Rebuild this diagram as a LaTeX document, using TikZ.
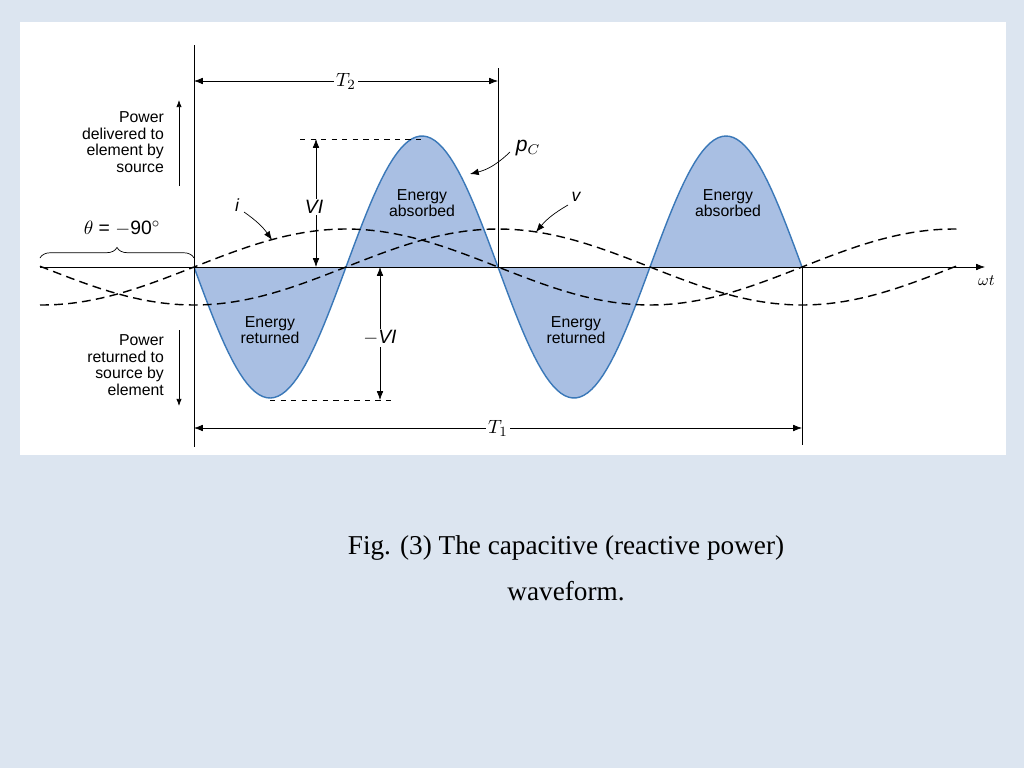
\documentclass[tikz,border=0pt]{standalone}
\usepackage{fontspec}
\setmainfont{Liberation Serif}
\newfontfamily\labelfont{Liberation Sans}
\usetikzlibrary{decorations.pathreplacing,arrows.meta}
\definecolor{bgblue}{HTML}{DCE5F0}
\definecolor{fillblue}{HTML}{A9BFE3}
\definecolor{lineblue}{HTML}{3A78B8}
\tikzset{
  lbl/.style={font=\labelfont\fontsize{9}{9.5}\selectfont, align=center, inner sep=1pt},
  dimarrow/.style={{Latex[length=5pt]}-{Latex[length=5pt]}, thin},
  wave/.style={dashed, thick, dash pattern=on 5pt off 3pt},
}
\begin{document}
\begin{tikzpicture}[x=0.02cm, y=-0.02cm]
  \useasboundingbox (0,0) rectangle (1024,768);
  \fill[bgblue] (0,0) rectangle (1024,768);
  \fill[white] (20,22) rectangle (1006,455);

  % power curve
  \fill[fillblue] plot[domain=194:802, samples=160] (\x, {267+131*sin((\x-194)*1.184211)}) -- cycle;
  \draw[lineblue, thick] plot[domain=194:802, samples=160] (\x, {267+131*sin((\x-194)*1.184211)});

  % axes
  \draw[-{Latex[length=5pt]}] (40,267) coordinate (ax0) -- (985,267) coordinate (ax1);
  \node[lbl, anchor=west] (wt) at (976,281) {$\omega t$};
  \draw (194,45) coordinate (va0) -- (194,447) coordinate (va1);

  % voltage and current
  \draw[wave] plot[domain=40:960, samples=120] (\x, {267-38*sin((\x-194)*0.592105)});
  \draw[wave] plot[domain=40:960, samples=120] (\x, {267-38*sin((\x-346)*0.592105)});

  % periods
  \draw (498,68) coordinate (t2r) -- (498,267);
  \draw (802,267) -- (802,445) coordinate (t1r);
  \draw[dimarrow] (194,81) -- node[fill=white, lbl, font=\labelfont\fontsize{11}{11}\selectfont] (T2) {$T_2$} (498,81);
  \draw[dimarrow] (194,428) -- node[fill=white, lbl, font=\labelfont\fontsize{11}{11}\selectfont] (T1) {$T_1$} (802,428);

  % VI marks
  \draw[dashed] (300,139) coordinate (vi0) -- (422,139) coordinate (vi1);
  \draw[dashed] (270,400) coordinate (mvi0) -- (392,400) coordinate (mvi1);
  \draw[dimarrow] (316,267) -- (316,139);
  \node[lbl, fill=white, font=\labelfont\itshape\fontsize{11}{11}\selectfont] (VI) at (314,207) {VI};
  \draw[dimarrow] (380,267) -- (380,400);
  \node[lbl, fill=white, font=\labelfont\fontsize{11}{11}\selectfont] (mVI) at (380,338) {$-$\textit{VI}};

  % phase brace
  \draw[decorate, decoration={brace, amplitude=6pt}] (40,258) -- (194,258);
  \node[lbl, font=\labelfont\fontsize{11}{11}\selectfont] (theta) at (122,229) {$\theta$ = $-$90$^\circ$};

  % side texts
  \node[lbl, align=right, anchor=east] (deliv) at (166,142) {Power\\delivered to\\element by\\source};
  \draw[-{Latex[length=4pt]}] (179,186) -- (179,100);
  \node[lbl, align=right, anchor=east] (ret) at (166,365) {Power\\returned to\\source by\\element};
  \draw[-{Latex[length=4pt]}] (179,330) -- (179,406);

  % energy labels
  \node[lbl] (abs1) at (422,203) {Energy\\absorbed};
  \node[lbl] (abs2) at (728,203) {Energy\\absorbed};
  \node[lbl] (ret1) at (270,330) {Energy\\returned};
  \node[lbl] (ret2) at (576,330) {Energy\\returned};

  % curve labels
  \node[lbl, font=\labelfont\itshape\fontsize{12}{12}\selectfont] (pc) at (528,148) {p$_C$};
  \draw[-{Latex[length=5pt]}] (510,152) to[bend left=15] (470,174);
  \node[lbl, font=\labelfont\itshape\fontsize{10}{10}\selectfont] (v) at (576,197) {v};
  \draw[-{Latex[length=5pt]}] (568,205) to[bend right=10] (536,232);
  \node[lbl, font=\labelfont\itshape\fontsize{10}{10}\selectfont] (i) at (237,205) {i};
  \draw[-{Latex[length=5pt]}] (244,212) to[bend left=10] (272,240);

  % caption
  \node[font=\fontsize{15.5}{26}\selectfont, align=center] (cap) at (566,568) {Fig. (3) The capacitive (reactive power)\\waveform.};
\end{tikzpicture}
\end{document}
